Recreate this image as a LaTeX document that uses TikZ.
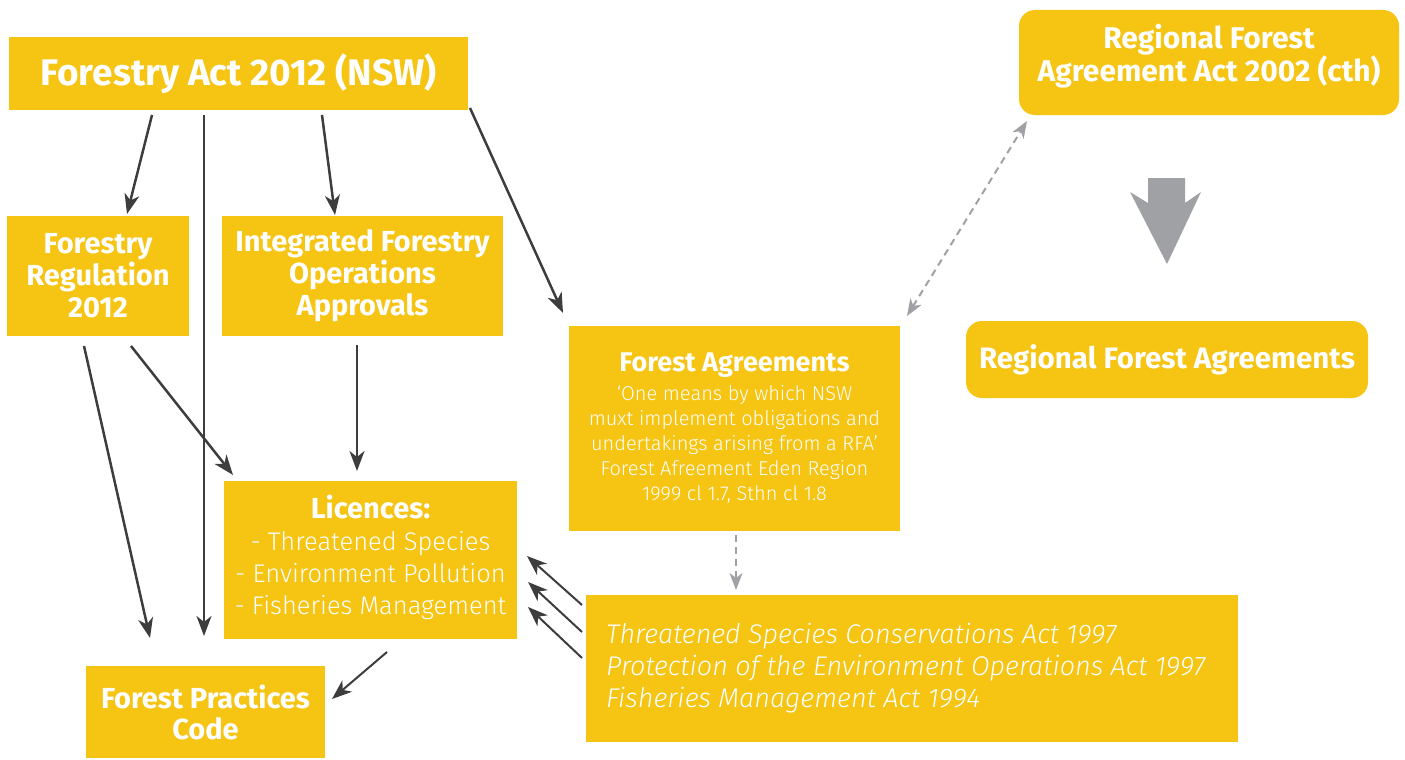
\documentclass[tikz,border=0pt]{standalone}
\usepackage{fontspec}
\setmainfont{Fira Sans}
\newfontfamily\lightfont{Fira Sans Light}
\usetikzlibrary{arrows.meta}
\definecolor{fyellow}{HTML}{F6C413}
\definecolor{darr}{HTML}{3D3D3D}
\definecolor{garr}{HTML}{A0A1A5}
\begin{document}
\begin{tikzpicture}[x=1pt,y=-1pt,
  box/.style={fill=fyellow, draw=none, text=white, align=center, inner sep=0pt},
  rbox/.style={box, rounded corners=16pt},
  head/.style={font=\fontsize{29}{32}\selectfont\bfseries},
  body/.style={font=\lightfont\fontsize{25.5}{32}\selectfont},
  darrow/.style={draw=darr, line width=2.5pt, -{Stealth[length=20pt,width=15pt,inset=6pt]}},
  thinarrow/.style={draw=darr, line width=2pt, -{Stealth[length=20pt,width=15pt,inset=6pt]}},
  garrow/.style={draw=garr, line width=2pt, dash pattern=on 7pt off 5pt, {Stealth[length=17pt,width=13pt,inset=5pt]}-{Stealth[length=17pt,width=13pt,inset=5pt]}},
  garrowone/.style={draw=garr, line width=2pt, dash pattern=on 7pt off 5pt, -{Stealth[length=17pt,width=13pt,inset=5pt]}}
]
\useasboundingbox (0,0) rectangle (1405,760);

% boxes
\node[box, minimum width=459pt, minimum height=73pt, font=\fontsize{37}{40}\selectfont\bfseries] (act) at (238.5,73.5) {Forestry Act 2012 (NSW)};
\node[box, head, minimum width=182pt, minimum height=120pt] (reg) at (98,276) {Forestry\\Regulation\\2012};
\node[box, head, minimum width=281pt, minimum height=120pt] (ifoa) at (362.5,276) {Integrated Forestry\\Operations\\Approvals};
\node[box, minimum width=331pt, minimum height=205pt, font=\lightfont\fontsize{20}{25}\selectfont] (fa) at (734.5,428)
  {{\normalfont\fontsize{27}{25}\selectfont\bfseries Forest Agreements}\\[4pt]
   ‘One means by which NSW\\muxt implement obligations and\\undertakings arising from a RFA’\\Forest Afreement Eden Region\\1999 cl 1.7, Sthn cl 1.8};
\node[rbox, minimum width=380pt, minimum height=105pt] (rfaact) at (1209,62.5) {};
\node[text=white, align=center, inner sep=0pt, font=\fontsize{30}{33}\selectfont\bfseries] (rfaacttxt) at (1209,56) {Regional Forest\\Agreement Act 2002 (cth)};
\node[rbox, head, minimum width=402pt, minimum height=77pt, font=\fontsize{29.5}{32}\selectfont\bfseries] (rfas) at (1167,359.5) {Regional Forest Agreements};
\node[box, minimum width=293pt, minimum height=158pt] (lic) at (370.5,560) {};
\node[text=white, align=center, inner sep=0pt, body] (lictxt) at (370.5,557)
  {{\normalfont\fontsize{29}{32}\selectfont\bfseries Licences:}\\- Threatened Species\\- Environment Pollution\\- Fisheries Management};
\node[box, head, minimum width=239pt, minimum height=92pt, font=\fontsize{29}{31}\selectfont\bfseries] (fpc) at (205.5,712) {Forest Practices\\Code};
\node[box, minimum width=652pt, minimum height=147pt] (acts) at (912,668.5) {};
\node[text=white, align=left, inner sep=0pt, anchor=west, font=\lightfont\fontsize{27}{32}\selectfont\itshape] (actstxt) at (606,668)
  {Threatened Species Conservations Act 1997\\Protection of the Environment Operations Act 1997\\Fisheries Management Act 1994};

% connector end points
\coordinate (a1s) at (152,115); \coordinate (a1e) at (127,214);
\coordinate (a2s) at (204,115); \coordinate (a2e) at (204,636);
\coordinate (a3s) at (322,115); \coordinate (a3e) at (335,215);
\coordinate (a4s) at (470,108); \coordinate (a4e) at (563,313);
\coordinate (a5s) at (84,346);  \coordinate (a5e) at (150,638);
\coordinate (a6s) at (131,346); \coordinate (a6e) at (233,475);
\coordinate (a7s) at (357,345); \coordinate (a7e) at (357,471);
\coordinate (a8s) at (387,652); \coordinate (a8e) at (332,699);
\coordinate (b1s) at (582,605); \coordinate (b1e) at (527,556);
\coordinate (b2s) at (582,632); \coordinate (b2e) at (528,582);
\coordinate (b3s) at (582,658); \coordinate (b3e) at (528,607);
\coordinate (d1s) at (1027,121); \coordinate (d1e) at (907,316);
\coordinate (d2s) at (736,535);  \coordinate (d2e) at (736,590);

\draw[darrow] (a1s) -- (a1e);
\draw[darrow] (a2s) -- (a2e);
\draw[darrow] (a3s) -- (a3e);
\draw[darrow] (a4s) -- (a4e);
\draw[darrow] (a5s) -- (a5e);
\draw[darrow] (a6s) -- (a6e);
\draw[darrow] (a7s) -- (a7e);
\draw[thinarrow] (a8s) -- (a8e);
\draw[thinarrow] (b1s) -- (b1e);
\draw[thinarrow] (b2s) -- (b2e);
\draw[thinarrow] (b3s) -- (b3e);
\draw[garrowone] (d2s) -- (d2e);
\draw[garrow] (d1e) -- (d1s);

% big block arrow
\fill[garr] (1148,178) -- (1185,178) -- (1185,203) -- (1201,192) -- (1167,264) -- (1130,192) -- (1148,203) -- cycle;
\end{tikzpicture}
\end{document}
